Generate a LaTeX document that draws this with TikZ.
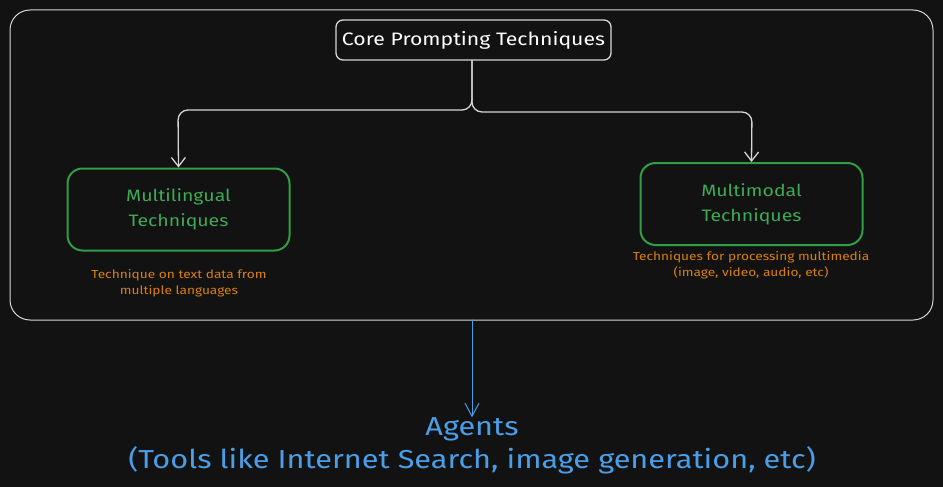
\documentclass[tikz,border=0pt]{standalone}
\usepackage{fontspec}
\setmainfont[FakeStretch=1.18]{Fira Sans}
\usetikzlibrary{arrows.meta}
\definecolor{bg}{HTML}{121212}
\definecolor{frame}{HTML}{D6D6D6}
\definecolor{grn}{HTML}{2F9E44}
\definecolor{grntxt}{HTML}{3DAA55}
\definecolor{org}{HTML}{D9800B}
\definecolor{blu}{HTML}{4A9EE8}
\tikzset{
  hand/.style={line width=1.3pt, line cap=round, line join=round},
  corebox/.style={hand, draw=frame, rounded corners=7pt, minimum width=275pt, minimum height=40pt, text=white, font=\fontsize{18}{22}\selectfont},
  techbox/.style={hand, draw=grn, line width=2pt, rounded corners=15pt, minimum width=222pt, minimum height=82pt, text=grntxt, align=center, font=\fontsize{16.5}{25}\selectfont},
  desc/.style={text=org, align=center, font=\fontsize{11.6}{16}\selectfont},
  agent/.style={text=blu, align=center, font=\fontsize{26}{33}\selectfont},
  conn/.style={hand, draw=frame, -{Straight Barb[length=9pt,width=14pt,line width=1.3pt]}},
}
\begin{document}
\begin{tikzpicture}[x=1pt,y=-1pt]
\fill[bg] (0,0) rectangle (943,487);
\useasboundingbox (0,0) rectangle (943,487);
\draw[line width=1pt, draw=frame, rounded corners=20pt] (10,10) rectangle (933,320);
\node[corebox] (core) at (473.5,40) {Core Prompting Techniques};
\node[techbox] (ml) at (178.5,209.5) {Multilingual\\Techniques};
\node[techbox] (mm) at (751.5,204) {Multimodal\\Techniques};
\node[desc] (mld) at (179,283) {Technique on text data from\\multiple languages};
\node[desc] (mmd) at (751,265) {Techniques for processing multimedia\\(image, video, audio, etc)};
\node[agent] (ag) at (472,446) {Agents\\(Tools like Internet Search, image generation, etc)};
\coordinate (split) at (472,110);
\coordinate (outer) at (472,320);
\draw[conn, rounded corners=10pt] (core.south -| split) -- (472,110) -- (178,110) -- (ml.north);
\draw[conn, rounded corners=10pt] (core.south -| split) -- (472,112) -- (752,112) -- (mm.north);
\draw[hand, line width=1pt, draw=blu, -{Straight Barb[length=13pt,width=14pt,line width=1pt]}] (outer) -- ([yshift=-3pt]ag.north);
\end{tikzpicture}
\end{document}
